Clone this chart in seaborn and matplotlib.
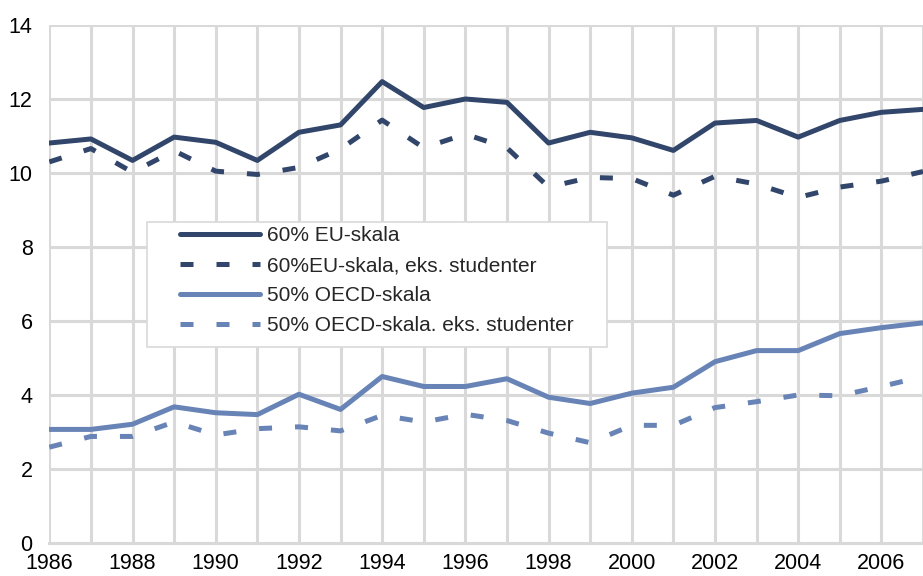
import seaborn as sns
import numpy as np
import pandas as pd
import matplotlib.pyplot as plt
from matplotlib.patches import Rectangle

years = list(range(1986, 2008))

eu60 = [10.81, 10.92, 10.34, 10.97, 10.83, 10.34, 11.10, 11.30, 12.47, 11.77, 12.00,
        11.91, 10.81, 11.10, 10.95, 10.61, 11.35, 11.42, 10.97, 11.42, 11.64, 11.72]
eu60_ex = [10.30, 10.66, 10.02, 10.60, 10.05, 9.96, 10.15, 10.65, 11.43, 10.68, 11.05,
           10.68, 9.62, 9.88, 9.85, 9.40, 9.91, 9.70, 9.34, 9.62, 9.78, 10.04]
oecd50 = [3.07, 3.07, 3.21, 3.68, 3.52, 3.47, 4.02, 3.61, 4.50, 4.23, 4.23,
          4.44, 3.94, 3.77, 4.05, 4.21, 4.90, 5.20, 5.20, 5.66, 5.82, 5.95]
oecd50_ex = [2.59, 2.88, 2.88, 3.27, 2.92, 3.09, 3.14, 3.03, 3.45, 3.27, 3.48,
             3.31, 2.97, 2.71, 3.18, 3.18, 3.66, 3.82, 4.00, 3.98, 4.23, 4.50]

labels = ['60% EU-skala', '60%EU-skala, eks. studenter',
          '50% OECD-skala', '50% OECD-skala. eks. studenter']

if __name__ == '__main__':
    data = pd.DataFrame({
        'Aar': years * 4,
        'Verdi': eu60 + eu60_ex + oecd50 + oecd50_ex,
        'Serie': sum([[l] * len(years) for l in labels], []),
    })

    dark = '#31466A'
    light = '#6883B5'
    palette = {labels[0]: dark, labels[1]: dark, labels[2]: light, labels[3]: light}
    dashes = {labels[0]: '', labels[1]: (2.6, 4.6), labels[2]: '', labels[3]: (2.6, 4.6)}

    sns.set_style('white')
    plt.rcParams['font.family'] = ['Liberation Sans', 'DejaVu Sans']

    fig = plt.figure(figsize=(9.23, 5.76), dpi=100)
    ax = fig.add_axes([49.3 / 923, 1 - 543 / 576, 1 - 49.3 / 923, 518 / 576])

    # all four series in one call, dashed variants via style
    sns.lineplot(data=data, x='Aar', y='Verdi', hue='Serie', style='Serie',
                 palette=palette, dashes=dashes, linewidth=3.6, ax=ax,
                 legend=True, zorder=3)
    for line in ax.get_lines():
        line.set_solid_capstyle('round')
        line.set_dash_capstyle('butt')

    ax.set_xlim(1986, 1986 + (923 - 49.3) / 41.9)
    ax.set_ylim(0, 14)
    ax.set_xticks(range(1986, 2008, 2))
    ax.set_xticks(range(1986, 2008), minor=True)
    ax.set_yticks(range(0, 15, 2))
    ax.grid(which='both', axis='x', color='#D9D9D9', linewidth=2.2)
    ax.grid(which='major', axis='y', color='#D9D9D9', linewidth=2.2)
    ax.set_axisbelow(True)
    for s in ['left', 'right', 'top']:
        ax.spines[s].set_visible(False)
    ax.spines['bottom'].set_color('#D9D9D9')
    ax.spines['bottom'].set_linewidth(2.2)
    ax.tick_params(axis='both', which='both', length=0, labelsize=15.5, colors='black')
    ax.tick_params(axis='y', pad=12)
    ax.tick_params(axis='x', pad=7)
    ax.set_xlabel('')
    ax.set_ylabel('')

    # legend box
    ax.add_patch(Rectangle((0.1118, 0.3784), 0.6383 - 0.1118, 0.6197 - 0.3784,
                           transform=ax.transAxes, facecolor='white',
                           edgecolor='#D9D9D9', linewidth=1.2, zorder=4))
    handles, _ = ax.get_legend_handles_labels()
    leg = ax.legend(handles[:4], labels, loc='upper left',
                    bbox_to_anchor=(0.1496, 0.612), borderaxespad=0, borderpad=0,
                    frameon=False, fontsize=15.0, handlelength=3.85,
                    handletextpad=0.34, labelspacing=0.53)
    leg.set_zorder(5)

    plt.savefig('out.png', dpi=100)
